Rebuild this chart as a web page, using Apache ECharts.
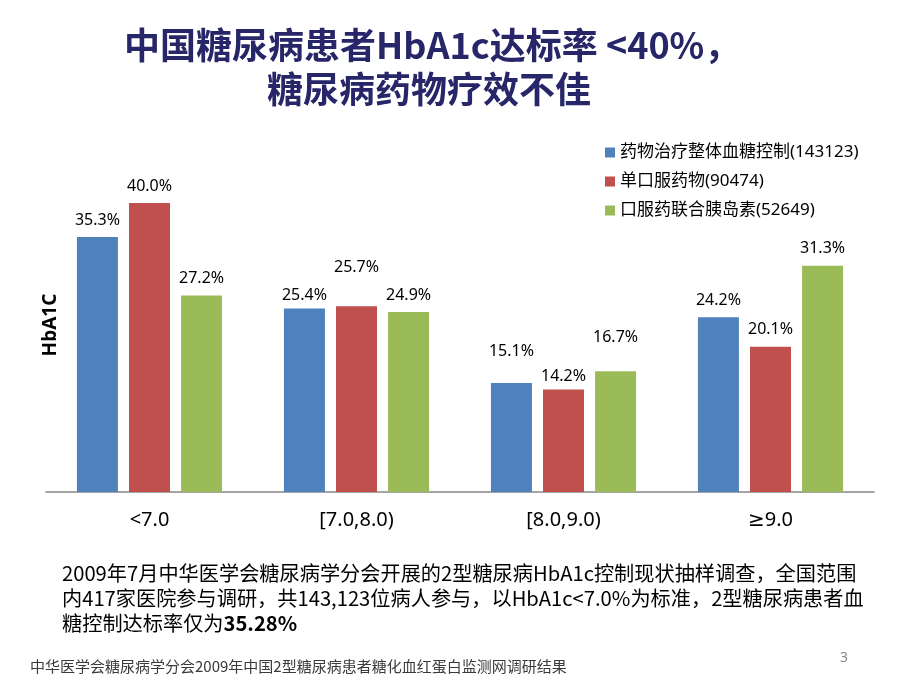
<!DOCTYPE html>
<html><head><meta charset="utf-8">
<script src="https://cdn.jsdelivr.net/npm/echarts@6/dist/echarts.min.js"></script>
<style>html,body{margin:0;padding:0;background:#fff}#c{width:920px;height:690px}</style>
</head><body><div id="c"></div>
<script>
const categories = ['<7.0', '[7.0,8.0)', '[8.0,9.0)', '≥9.0'];
const seriesNames = ['药物治疗整体血糖控制(143123)', '单口服药物(90474)', '口服药联合胰岛素(52649)'];
const overall = [35.3, 25.4, 15.1, 24.2];
const oralOnly = [40.0, 25.7, 14.2, 20.1];
const oralInsulin = [27.2, 24.9, 16.7, 31.3];

const colors = ['#4F81BD', '#C0504D', '#9BBB59'];
// extra label lift (px) to mimic the reference's label placement
const lift = [[0, -4, 14, 0], [0, 22, -4, 0], [0, 0, 17, 0]];
const FONT = '"Noto Sans", "DejaVu Sans", "Noto Sans CJK SC", sans-serif';
const TFONT = '"Noto Sans CJK SC", sans-serif';

const chart = echarts.init(document.getElementById('c'));
const allData = [overall, oralOnly, oralInsulin];
chart.setOption({
  backgroundColor: '#fff',
  animation: false,
  textStyle: { fontFamily: FONT },
  legend: {
    orient: 'vertical', left: 600, top: 139, itemGap: 12,
    itemWidth: 10, itemHeight: 10, icon: 'rect',
    textStyle: { fontSize: 17, color: '#000', fontFamily: FONT },
    data: seriesNames
  },
  grid: { left: 46, right: 46, top: 203, height: 289 },
  xAxis: {
    type: 'category', data: categories,
    axisLine: { lineStyle: { color: '#868686', width: 1.5 } },
    axisTick: { show: false },
    axisLabel: { fontSize: 20, color: '#000', margin: 18, fontFamily: FONT }
  },
  yAxis: {
    type: 'value', min: 0, max: 40,
    axisLine: { show: false }, axisTick: { show: false },
    axisLabel: { show: false }, splitLine: { show: false }
  },
  series: seriesNames.map((n, i) => ({
    name: n, type: 'bar', barWidth: 41, barGap: '27%',
    itemStyle: { color: colors[i] },
    data: allData[i].map((v, j) => ({
      value: v,
      label: { offset: [0, -lift[i][j]] }
    })),
    label: {
      show: true, position: 'top', distance: 9,
      formatter: p => p.value.toFixed(1) + '%',
      fontSize: 16, color: '#000', fontFamily: FONT
    }
  })),
  graphic: [
    { type: 'text', x: 51, y: 325, rotation: Math.PI / 2, style: { text: 'HbA1C', font: 'bold 19px "Noto Sans", sans-serif', fill: '#000', textAlign: 'center', textVerticalAlign: 'middle' } },
    { type: 'text', left: 124, top: 27, style: { text: '中国糖尿病患者HbA1c达标率 <40%，', font: 'bold 36px ' + TFONT, fill: '#262668' } },
    { type: 'text', left: 267, top: 71, style: { text: '糖尿病药物疗效不佳', font: 'bold 36px ' + TFONT, fill: '#262668' } },
    { type: 'text', left: 62, top: 561, style: { text: '2009年7月中华医学会糖尿病学分会开展的2型糖尿病HbA1c控制现状抽样调查，全国范围\n内417家医院参与调研，共143,123位病人参与，以HbA1c<7.0%为标准，2型糖尿病患者血\n糖控制达标率仅为{b|35.28%}', font: '20.2px ' + TFONT, fill: '#000', lineHeight: 25, rich: { b: { fontWeight: 'bold', fontSize: 20.2, fontFamily: TFONT, lineHeight: 25 } } } },
    { type: 'text', left: 30, top: 659, style: { text: '中华医学会糖尿病学分会2009年中国2型糖尿病患者糖化血红蛋白监测网调研结果', font: '15px ' + TFONT, fill: '#3a3a3a' } },
    { type: 'text', left: 840, top: 651, style: { text: '3', font: '14px "Noto Sans", sans-serif', fill: '#8c8c8c' } }
  ]
});
</script></body></html>
